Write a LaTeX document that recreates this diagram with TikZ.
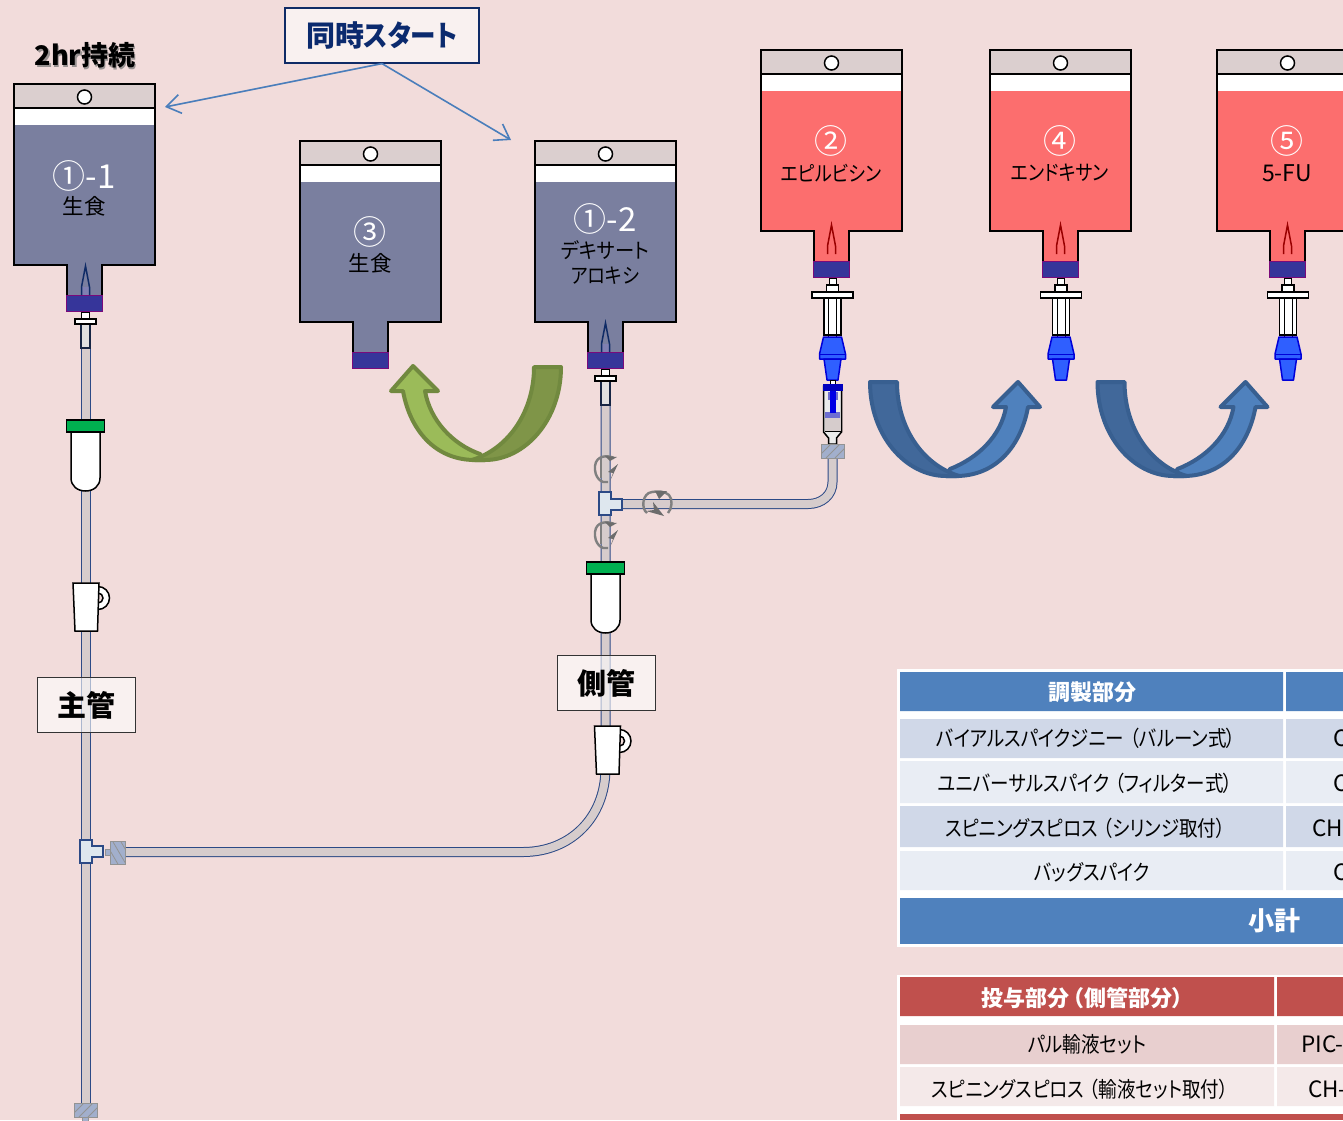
\documentclass[tikz,border=0pt]{standalone}
\usepackage{fontspec}
\setmainfont{Noto Sans CJK JP}[RawFeature=+palt]
\newfontfamily\narrowA{Noto Sans CJK JP}[RawFeature=+palt,FakeStretch=0.86]
\newfontfamily\narrowB{Noto Sans CJK JP}[RawFeature=+palt,FakeStretch=0.92]
\usetikzlibrary{arrows.meta,calc}
\definecolor{bgc}{HTML}{F2DCDB}
\definecolor{tubec}{HTML}{D6CCCC}
\definecolor{tubeb}{HTML}{2C4A86}
\definecolor{headc}{HTML}{DBCFCF}
\definecolor{salinec}{HTML}{7A7F9F}
\definecolor{redc}{HTML}{FC6E6E}
\definecolor{capc}{HTML}{36359A}
\definecolor{capb}{HTML}{7A0A7A}
\definecolor{navyc}{HTML}{0F2B66}
\definecolor{syncc}{HTML}{0B2A6E}
\definecolor{linkc}{HTML}{4A7EBB}
\definecolor{greenc}{HTML}{00B050}
\definecolor{hatchc}{HTML}{A2AFCC}
\definecolor{teec}{HTML}{DEE7EE}
\definecolor{bluec}{HTML}{2F5FFF}
\definecolor{tblue}{HTML}{4F81BD}
\definecolor{tb1}{HTML}{D0D8E8}
\definecolor{tb2}{HTML}{E9EDF4}
\definecolor{tred}{HTML}{C0504D}
\definecolor{tr1}{HTML}{E8CFCF}
\definecolor{tr2}{HTML}{F4E9E9}
\definecolor{arcgl}{HTML}{9BBB59}
\definecolor{arcgd}{HTML}{7F9548}
\definecolor{arcgs}{HTML}{71893F}
\definecolor{arcbl}{HTML}{4F81BD}
\definecolor{arcbd}{HTML}{41689A}
\definecolor{arcbs}{HTML}{385F90}
\newcommand{\fs}[1]{\fontsize{#1}{#1}\selectfont}
\tikzset{
  bagline/.style={draw=black,line width=2pt,line join=miter},
  part/.style={draw=black,line width=1.5pt},
  tubeouter/.style={draw=tubeb,line width=10pt},
  tubeinner/.style={draw=tubec,line width=8pt},
  hatchbox/.style={fill=hatchc,draw=gray!85,line width=1pt},
  hatchline/.style={draw=gray!85,line width=.8pt},
  tee/.style={fill=teec,draw=tubeb,line width=1.3pt},
  twist/.style={draw=gray,line width=2.4pt},
  twisthead/.style={fill=gray!85!black},
  lab/.style={fill=white,fill opacity=.6,text opacity=1,draw=black!80,line width=1pt,inner sep=0pt,font=\fs{29}\bfseries},
  baglabel/.style={inner sep=0pt,font=\fs{21}\narrowA},
  bagplain/.style={inner sep=0pt,font=\fs{21.5}},
  bagnum/.style={inner sep=0pt,text=white,font=\fs{33}},
  th/.style={inner sep=0pt,text=white,font=\fs{22}\bfseries},
  td/.style={inner sep=0pt,font=\fs{21.5}\narrowA},
  tdplain/.style={inner sep=0pt,font=\fs{22.5}},
  link/.style={draw=linkc,line width=1.6pt,-{Straight Barb[length=14pt,width=19pt,line width=1.6pt]}},
  arcstroke/.style={line width=4pt,line join=round}
}
\newcommand{\infbag}[3]{%
 \begin{scope}[shift={(#1,#2)}]
  \fill[#3] (0,41) rectangle (141,181) (53,181) rectangle (88,212);
  \fill[white] (0,24) rectangle (141,41);
  \fill[headc] (0,0) rectangle (141,24);
  \draw[bagline] (53,212) -- (53,181) -- (0,181) -- (0,0) -- (141,0) -- (141,181) -- (88,181) -- (88,212);
  \draw[black,line width=1.5pt] (0,24) -- (141,24);
  \draw[black,fill=white,line width=1.5pt] (70.5,13) circle (7);
  \draw[fill=capc,draw=capb,line width=1.5pt] (52.5,211.5) rectangle (88.5,227.5);
 \end{scope}}
\newcommand{\needle}[4]{%
 \begin{scope}[shift={(#1,#2)}]
  \fill[#4] (-4,21) -- (4,21) -- (4,29) -- (-4,29) -- cycle;
  \draw[#3,line width=1.5pt] (-4,29) -- (-4,21) -- (0,0) -- (4,21) -- (4,29);
 \end{scope}}
\newcommand{\spike}[2]{%
 \begin{scope}[shift={(#1,#2)}]
  \draw[fill=white,draw=black,line width=1pt] (-4,0) rectangle (4,7);
  \draw[fill=black!12,draw=black!50!tubeb,line width=1.2pt] (-4.5,12) rectangle (4.5,36);
  \draw[fill=white,draw=black,line width=1.5pt] (-10.5,7) rectangle (10.5,12);
 \end{scope}}
\newcommand{\drip}[2]{%
 \begin{scope}[shift={(#1,#2)}]
  \draw[part,fill=white] (-14.5,12) -- (-14.5,58) .. controls (-14.5,66) and (-8,71) .. (0,71) .. controls (8,71) and (14.5,66) .. (14.5,58) -- (14.5,12) -- cycle;
  \draw[part,fill=greenc] (-19,0) rectangle (19,12);
 \end{scope}}
\newcommand{\clampbody}[2]{%
 \begin{scope}[shift={(#1,#2)}]
  \draw[part,fill=white] (12,15) circle (11.5);
  \draw[part,fill=bgc] (12,15) circle (5);
  \draw[part,fill=white] (-13,0) -- (13,0) -- (11.5,48) -- (-11,48) -- cycle;
 \end{scope}}
\newcommand{\hatchH}[4]{%
 \draw[hatchbox] (#1,#2) rectangle (#3,#4);
 \begin{scope}
  \clip (#1,#2) rectangle (#3,#4);
  \foreach \k in {0,1,2}{\draw[hatchline] ($(#1,#4)+(\k*9-4,0)$) -- ++(16,-16);}
 \end{scope}}
\newcommand{\hatchV}[4]{%
 \draw[hatchbox] (#1,#2) rectangle (#3,#4);
 \begin{scope}
  \clip (#1,#2) rectangle (#3,#4);
  \foreach \k in {0,1,2}{\draw[hatchline] ($(#1,#2)+(\k*8-6,0)$) -- ++(14,24);}
 \end{scope}}
\newcommand{\twistV}[1]{%
 \begin{scope}[shift={(605,#1)}]
  \draw[twist] (9,-11) .. controls (3,-14) and (-9,-14) .. (-10,-3) .. controls (-11,9) and (-3,15) .. (3,13);
  \draw[twist] (-4,-10) -- (-4,9);
  \fill[twisthead] (13,-5) -- (3,3) -- (8,4) -- (5,12) -- cycle;
  \fill[twisthead] (0,-13) -- (12,-12) -- (5,-8) -- cycle;
 \end{scope}}
\newcommand{\vent}[1]{%
 \begin{scope}[shift={(#1,0)}]
  \draw[fill=white,draw=black,line width=1pt] (-3.5,278) rectangle (3.5,285);
  \draw[part,fill=white] (-6,285) rectangle (6,292);
  \draw[part,fill=white] (-20.5,292) rectangle (20.5,298);
  \draw[part,fill=white] (-8.5,298) rectangle (8.5,335);
  \draw[black,line width=1pt] (-4,298) -- (-4,338) (4,298) -- (4,338);
  \draw[fill=bluec,draw=blue!85!black,line width=1.5pt,line join=round] (-9,337) -- (9,337) -- (13,354) -- (13,359) -- (-13,359) -- (-13,354) -- cycle;
  \draw[blue!85!black,line width=1pt] (-13,354) -- (13,354);
  \draw[fill=bluec,draw=blue!85!black,line width=1.5pt,line join=round] (-8.5,359) -- (8.5,359) -- (5.5,380) -- (-5.5,380) -- cycle;
 \end{scope}}
\begin{document}
\begin{tikzpicture}[x=1pt,y=-1pt]
\useasboundingbox (0,0) rectangle (1343,1120);
\clip (0,0) rectangle (1343,1120);
\fill[bgc] (0,0) rectangle (1343,1120);

% ---- tubes
\coordinate (mainTop) at (85.5,340);
\coordinate (mainEnd) at (85.5,1104);
\draw[tubeouter] (mainTop) -- (mainEnd);
\draw[tubeinner] (mainTop) -- (mainEnd);
\coordinate (sideTop) at (605.5,400);
\coordinate (sideBend) at (605.5,768);
\coordinate (sideEnd) at (124,852);
\draw[tubeouter] (sideTop) -- (sideBend) .. controls (605.5,818) and (570,852) .. (523,852) -- (sideEnd);
\draw[tubeinner] (sideTop) -- (sideBend) .. controls (605.5,818) and (570,852) .. (523,852) -- (sideEnd);
\coordinate (subTop) at (832.5,456);
\coordinate (subEnd) at (620,504);
\draw[tubeouter] (subTop) -- (832.5,482) .. controls (832.5,495) and (822,504) .. (808,504) -- (subEnd);
\draw[tubeinner] (subTop) -- (832.5,482) .. controls (832.5,495) and (822,504) .. (808,504) -- (subEnd);

% ---- bags
\infbag{14}{84}{salinec}
\infbag{300}{141}{salinec}
\infbag{535}{141}{salinec}
\infbag{761}{50}{redc}
\infbag{990}{50}{redc}
\infbag{1217}{50}{redc}
\needle{85.5}{266}{navyc}{blue!25!gray!80}
\needle{605.5}{323}{navyc}{blue!25!gray!80}
\needle{831.5}{225}{red!60!black}{redc}
\needle{1060.5}{225}{red!60!black}{redc}
\needle{1287.5}{225}{red!60!black}{redc}

% ---- line parts
\spike{85.5}{312}
\spike{605.5}{369}
\drip{85.5}{420}
\drip{605.5}{562}
\clampbody{86}{583}
\clampbody{607.5}{726}

\vent{832.5}
\vent{1061}
\vent{1288}

% ---- spiros under bag 2
\draw[fill=white,draw=black,line width=1pt] (830,380) rectangle (835.5,384);
\draw[part,fill=black!8] (823.5,386) -- (841.5,386) -- (841.5,432) -- (836.5,438) -- (836.5,444) -- (828.5,444) -- (828.5,438) -- (823.5,432) -- cycle;
\fill[tubec] (824.5,418) rectangle (840.5,431.5);
\fill[blue!55!gray,opacity=.7] (825,412) rectangle (840,418);
\fill[blue!55!gray,opacity=.7] (827.5,392) rectangle (838,400);
\fill[blue!90!black] (830,388) rectangle (835.5,413);
\fill[blue!75!black] (823,384) rectangle (843,391);
\draw[black,line width=1.2pt] (824.5,431.5) -- (840.5,431.5);
\hatchH{821}{444}{844}{458}

% ---- T connectors and joints
\draw[tee] (599,492) -- (611,492) -- (611,499) -- (622,499) -- (622,510) -- (611,510) -- (611,515) -- (599,515) -- cycle;
\draw[tee] (80,840) -- (92,840) -- (92,846) -- (103,846) -- (103,857) -- (92,857) -- (92,863) -- (80,863) -- cycle;
\draw[fill=hatchc,draw=gray!85,line width=1pt] (105,849) rectangle (110.5,855);
\hatchV{110.5}{841}{125}{864}
\hatchH{74}{1103.5}{97}{1117}
\draw[hatchbox] (82,1117) rectangle (88,1122);

% ---- rotation marks
\twistV{469}
\twistV{535}
\begin{scope}[shift={(657,503)}]
  \draw[twist] (-10,10) .. controls (-16,6) and (-15,-10) .. (-5,-11) .. controls (0,-12) and (8,-12) .. (12,-8) .. controls (16,-4) and (15,6) .. (11,10);
  \fill[twisthead] (-2,-12) -- (10,-12) -- (2,-4) -- cycle;
  \fill[twisthead] (7,13) -- (-4,-1) -- (-3,7) -- (-11,8) -- cycle;
\end{scope}

% ---- curved arrows
\draw[fill=arcgl,draw=arcgs,arcstroke] (480,454) .. controls (452,444) and (430,420) .. (425,391) -- (438,391) -- (413,366) -- (391,391) -- (403,391) .. controls (410,430) and (435,460) .. (475,460) -- (485,460) -- cycle;
\draw[fill=arcgd,draw=arcgs,arcstroke] (534,367) -- (561,367) .. controls (561,420) and (525,460) .. (485,460) -- (472,460) .. controls (510,448) and (534,410) .. (534,367) -- cycle;
\newcommand{\bluearc}[1]{%
 \begin{scope}[shift={(#1,0)}]
  \draw[fill=arcbl,draw=arcbs,arcstroke] (950,469) .. controls (978,458) and (1001,436) .. (1006,407) -- (993,407) -- (1018,382) -- (1040,407) -- (1028,407) .. controls (1021,446) and (996,476) .. (956,476) -- (946,476) -- cycle;
  \draw[fill=arcbd,draw=arcbs,arcstroke] (897,382) -- (870,382) .. controls (870,436) and (906,476) .. (946,476) -- (959,476) .. controls (921,464) and (897,426) .. (897,382) -- cycle;
 \end{scope}}
\bluearc{0}
\bluearc{227.5}

% ---- labels on the tubes
\node[lab,minimum width=98pt,minimum height=55pt] (mainLabel) at (86,705) {主管};
\node[lab,minimum width=98pt,minimum height=55pt] (sideLabel) at (606,683) {側管};

% ---- sync box and arrows
\node[fill=white,fill opacity=.6,text opacity=1,draw=navyc,line width=1.2pt,minimum width=194pt,minimum height=55pt,inner sep=0pt,text=syncc,font=\fs{29}\bfseries] (sync) at (382,35.5) {同時\hspace{-1pt}\scalebox{.88}[1]{スタート}};
\coordinate (syncLeft) at (165,107);
\coordinate (syncRight) at (511,140);
\draw[link] (sync.south) -- (syncLeft);
\draw[link] (sync.south) -- (syncRight);
\node[inner sep=0pt,text=black!55,opacity=.7,font=\fs{27}\bfseries] (durShadow) at (86.5,57) {2hr持続};
\node[inner sep=0pt,font=\fs{27}\bfseries] (dur) at (85,55.5) {2hr持続};

% ---- bag labels
\node[bagnum] (n11) at (84,176) {①-1};
\node[bagplain] (t11) at (84,206) {生食};
\node[bagnum] (n3) at (370,232) {③};
\node[bagplain] (t3) at (370,263) {生食};
\node[bagnum] (n12) at (605,219) {①-2};
\node[baglabel,font=\fs{21}\narrowB] (t12a) at (605,250) {デキサート};
\node[baglabel] (t12b) at (605,276) {アロキシ};
\node[bagnum] (n2) at (831,141) {②};
\node[baglabel] (t2) at (831,173) {エピルビシン};
\node[bagnum] (n4) at (1060,141) {④};
\node[baglabel] (t4) at (1060,173) {エンドキサン};
\node[bagnum] (n5) at (1287,141) {⑤};
\node[bagplain,font=\fs{23}] (t5) at (1287,173) {5-FU};

% ---- table 1
\fill[white] (897,669) rectangle (1343,947);
\fill[tblue] (900,672) rectangle (1283,711) (1286,672) rectangle (1343,711);
\fill[tb1] (900,719) rectangle (1283,758) (1286,719) rectangle (1343,758);
\fill[tb2] (900,761) rectangle (1283,803) (1286,761) rectangle (1343,803);
\fill[tb1] (900,806) rectangle (1283,847) (1286,806) rectangle (1343,847);
\fill[tb2] (900,851) rectangle (1283,890) (1286,851) rectangle (1343,890);
\fill[tblue] (900,898) rectangle (1343,944);
\node[th] (h1) at (1092,692) {調製部分};
\node[td] (r1) at (1086,738) {バイアルスパイクジニー\hspace{6pt}（バルーン式）\hspace{2pt}};
\node[td] (r2) at (1085.5,783) {ユニバーサルスパイク\hspace{5pt}（フィルター式）\hspace{2pt}};
\node[td] (r3) at (1085.5,828) {スピニングスピロス\hspace{5pt}（シリンジ取付）\hspace{2pt}};
\node[td] (r4) at (1092,872) {バッグスパイク};
\node[tdplain,anchor=west] (c1) at (1333,738) {C};
\node[tdplain,anchor=west] (c2) at (1333,783) {C};
\node[tdplain,anchor=west] (c3) at (1312,828) {CH};
\node[tdplain,anchor=west] (c4) at (1333,872) {C};
\node[th,font=\fs{26}\bfseries] (sub1) at (1274,921) {小計};

% ---- table 2
\fill[white] (897,975) rectangle (1343,1120);
\fill[tred] (900,977) rectangle (1274,1016) (1277,977) rectangle (1343,1016);
\fill[tr1] (900,1025) rectangle (1274,1064) (1277,1025) rectangle (1343,1064);
\fill[tr2] (900,1067) rectangle (1274,1106) (1277,1067) rectangle (1343,1106);
\fill[tred] (900,1114) rectangle (1343,1120);
\node[th] (h2) at (1082,998) {投与部分\hspace{4pt}（側管部分）\hspace{2pt}};
\node[td] (q1) at (1087,1044) {パル輸液セット};
\node[td] (q2) at (1080,1089) {スピニングスピロス\hspace{5pt}（輸液セット取付）\hspace{2pt}};
\node[tdplain,anchor=west] (d1) at (1301,1044) {PIC-};
\node[tdplain,anchor=west] (d2) at (1308,1089) {CH-};
\end{tikzpicture}
\end{document}
